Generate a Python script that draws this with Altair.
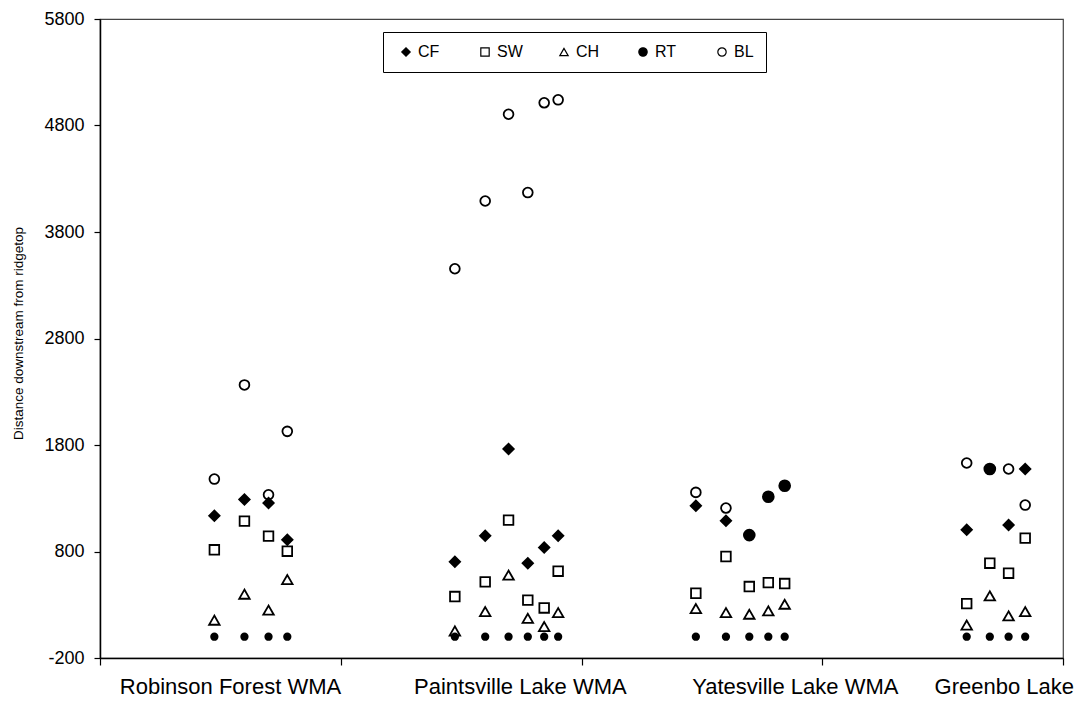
import altair as alt
import pandas as pd

sites = ["Robinson Forest WMA", "Paintsville Lake WMA", "Yatesville Lake WMA", "Greenbo Lake"]
# x positions at which the site names are printed under the axis
site_label_pos = [0.54, 1.744, 2.886, 3.754]
series = ["CF", "SW", "CH", "RT", "BL"]

# Robinson Forest WMA (x = site index + position within site)
rob_x = [0.475, 0.600, 0.700, 0.778]
rob_CF = [1135, 1289, 1255, 910]
rob_SW = [816, 1085, 944, 803]
rob_CH = [155, 399, 249, 536]
rob_RT = [0, 0, 0, 0]
rob_BL = [1480, 2364, 1333, 1928]
rob_BLf = [None, None, None, None]

# Paintsville Lake WMA
pai_x = [1.474, 1.600, 1.697, 1.777, 1.845, 1.903]
pai_CF = [703, 947, 1763, 690, 837, 947]
pai_SW = [377, 515, 1095, 343, 270, 615]
pai_CH = [54, 236, 578, 173, 95, 226]
pai_RT = [0, 0, 0, 0, 0, 0]
pai_BL = [3455, 4091, 4906, 4170, 5013, 5041]
pai_BLf = [None, None, None, None, None, None]

# Yatesville Lake WMA
yat_x = [2.475, 2.600, 2.697, 2.776, 2.844]
yat_CF = [1229, 1088, None, None, None]
yat_SW = [408, 753, 471, 508, 499]
yat_CH = [264, 226, 211, 242, 305]
yat_RT = [0, 0, 0, 0, 0]
yat_BL = [1355, 1208, None, None, None]
yat_BLf = [None, None, 954, 1314, 1417]

# Greenbo Lake
gre_x = [3.600, 3.696, 3.774, 3.843]
gre_CF = [1004, None, 1048, 1575]
gre_SW = [311, 690, 596, 926]
gre_CH = [110, 383, 195, 235]
gre_RT = [0, 0, 0, 0]
gre_BL = [1631, None, 1575, 1236]
gre_BLf = [None, 1575, None, None]

y_ticks = [-200, 800, 1800, 2800, 3800, 4800, 5800]

site_data = [
    (rob_x, {"CF": rob_CF, "SW": rob_SW, "CH": rob_CH, "RT": rob_RT, "BL": rob_BL}, rob_BLf),
    (pai_x, {"CF": pai_CF, "SW": pai_SW, "CH": pai_CH, "RT": pai_RT, "BL": pai_BL}, pai_BLf),
    (yat_x, {"CF": yat_CF, "SW": yat_SW, "CH": yat_CH, "RT": yat_RT, "BL": yat_BL}, yat_BLf),
    (gre_x, {"CF": gre_CF, "SW": gre_SW, "CH": gre_CH, "RT": gre_RT, "BL": gre_BL}, gre_BLf),
]

rows, big_rows = [], []
for xs, d, blf in site_data:
    for s in series:
        for xv, v in zip(xs, d[s]):
            if v is not None:
                rows.append({"pos": xv, "value": v, "series": s, "marker": s})
    for xv, v in zip(xs, blf):
        if v is not None:
            big_rows.append({"pos": xv, "value": v})

df = pd.DataFrame(rows)
df_big = pd.DataFrame(big_rows)

label_expr = ""
for p, s in zip(site_label_pos, sites):
    label_expr += f"datum.value == {p} ? '{s}' : "
label_expr += "''"

tick_vals = [0, 1, 2, 3, 4]
axis_vals = sorted(tick_vals + site_label_pos)
tick_test = " || ".join(f"datum.value == {p}" for p in site_label_pos)

x_enc = alt.X(
    "pos:Q",
    scale=alt.Scale(domain=[0, 4], nice=False, zero=False),
    axis=alt.Axis(
        values=axis_vals,
        labelExpr=label_expr,
        title=None,
        grid=False,
        labelOverlap=False,
        labelFlush=False,
        labelLimit=0,
        labelFontSize=22,
        labelPadding=11,
        tickSize=7,
        tickOpacity={"condition": {"test": tick_test, "value": 0}, "value": 1},
    ),
)
y_enc = alt.Y(
    "value:Q",
    scale=alt.Scale(domain=[-200, 5800], nice=False, zero=False),
    axis=alt.Axis(
        values=y_ticks,
        labelExpr="'' + datum.value",
        title="Distance downstream from ridgetop",
        grid=False,
        tickSize=6,
        labelPadding=10,
        labelFontSize=18,
        titleFontSize=13.5,
        titleFontWeight="normal",
        titleX=-82,
        titleY=314,
        titleAlign="center",
        titleBaseline="middle",
    ),
)

leg = alt.Legend(
    title=None,
    orient="none",
    legendX=283,
    legendY=13,
    direction="horizontal",
    columns=5,
    gridAlign="all",
    columnPadding=30,
    padding=12,
    symbolOffset=3,
    labelOffset=4,
    labelFontSize=16,
    labelLimit=300,
    symbolSize=70,
    symbolStrokeColor="black",
    symbolStrokeWidth=1.2,
    strokeColor="black",
    fillColor="white",
)

# marker size scale (its domain order differs so it is not merged into the legend)
size_domain = ["RT", "CF", "SW", "CH", "BL"]
size_range = [42, 110, 92, 110, 95]

points = alt.Chart(df).mark_point(filled=True, strokeWidth=1.8, opacity=1).encode(
    x=x_enc,
    y=y_enc,
    shape=alt.Shape("series:N", scale=alt.Scale(domain=series, range=["diamond", "square", "triangle-up", "circle", "circle"]), legend=leg),
    fill=alt.Fill("series:N", scale=alt.Scale(domain=series, range=["black", "transparent", "transparent", "black", "transparent"]), legend=leg),
    stroke=alt.Stroke("series:N", scale=alt.Scale(domain=series, range=["black", "black", "black", "black", "black"]), legend=leg),
    size=alt.Size("marker:N", scale=alt.Scale(type="ordinal", domain=size_domain, range=size_range), legend=None),
)

big = alt.Chart(df_big).mark_circle(size=160, color="black", opacity=1).encode(x=x_enc, y=y_enc)

chart = alt.layer(big, points).properties(
    width=963,
    height=639,
    autosize=alt.AutoSizeParams(type="none"),
    padding={"left": 100, "top": 19, "right": 18, "bottom": 44},
).configure(
    font="Liberation Sans",
    background="white",
).configure_view(
    stroke="#444", strokeWidth=1.2
).configure_axis(
    domainColor="black", domainWidth=1.5, tickColor="black", tickWidth=1.2,
    labelColor="black", titleColor="black", labelFont="Liberation Sans", titleFont="Liberation Sans",
).configure_legend(
    labelColor="black", labelFont="Liberation Sans"
)

chart.save("out.html", embed_options={"renderer": "svg", "actions": False})
